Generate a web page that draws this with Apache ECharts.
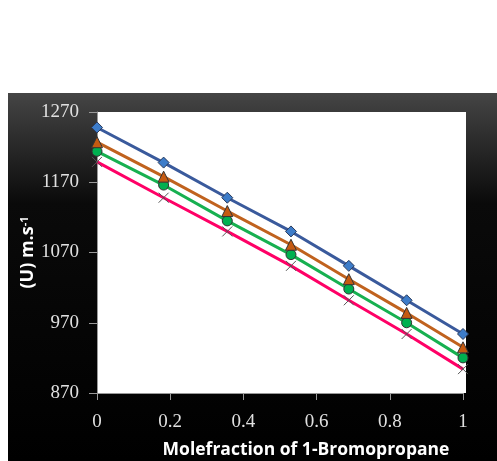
<!DOCTYPE html>
<html><head><meta charset="utf-8">
<script src="https://cdn.jsdelivr.net/npm/echarts@6/dist/echarts.min.js"></script>
<style>html,body{margin:0;padding:0;background:#fff}#c{width:497px;height:461px}</style>
</head><body><div id="c"></div>
<script>
const moleFraction = [0, 0.182, 0.356, 0.53, 0.688, 0.846, 1];
const seriesBlue   = [1248, 1198, 1148, 1100, 1051, 1002, 954];
const seriesOrange = [1227, 1178, 1129, 1081, 1032, 984, 935];
const seriesGreen  = [1214, 1166, 1115, 1067, 1018, 970, 920];
const seriesPink   = [1199, 1148, 1100, 1051, 1002, 954, 904];
const yTicks = [870, 970, 1070, 1170, 1270];
const xTitle = 'Molefraction of 1-Bromopropane';

const chart = echarts.init(document.getElementById('c'), null, {renderer:'canvas'});
const pair = arr => moleFraction.map((x,i)=>[x, arr[i]]);
const G = {left:97, top:112, width:366, height:281, outerBoundsMode:'none', containLabel:false};
function mk(name, data, lineColor, symbol, size, fill, border) {
  return {
    name, type:'line', data: pair(data), symbol, symbolSize:size,
    lineStyle:{color:lineColor, width:3},
    itemStyle:{color:fill, borderColor:border, borderWidth:1},
    emphasis:{disabled:true}, animation:false
  };
}
chart.setOption({
  animation:false,
  graphic:[
    {type:'rect', z:-10, shape:{x:8, y:93, width:489, height:368},
     style:{fill:new echarts.graphic.LinearGradient(0,0,0,1,[
       {offset:0,color:'#454545'},{offset:0.3,color:'#0a0a0a'},{offset:1,color:'#000'}])}},
    {type:'rect', z:-9, shape:{x:97, y:112, width:369, height:281}, style:{fill:'#fff'}}
  ],
  grid:G,
  xAxis:{type:'value', min:0, max:1, interval:0.2,
    name:xTitle, nameLocation:'middle', nameGap:48,
    nameTextStyle:{color:'#fff', fontFamily:'Open Sans', fontWeight:'bold', fontSize:17.5, padding:[0,0,0,52]},
    axisLine:{show:true, lineStyle:{color:'#999', width:1}},
    axisTick:{show:true, length:7, lineStyle:{color:'#999'}},
    axisLabel:{color:'#e0e0e0', fontFamily:'Liberation Serif', fontSize:19, margin:20,
      formatter:v=>String(+v.toFixed(1))},
    splitLine:{show:false}},
  yAxis:{type:'value', min:870, max:1270, interval:100,
    name:'{a|(U) m.s}{s|-1}', nameLocation:'middle', nameGap:60, nameRotate:90, nameMoveOverlap:false,
    nameTextStyle:{rich:{
      a:{color:'#fff', fontFamily:'Open Sans', fontWeight:'bold', fontSize:18},
      s:{color:'#fff', fontFamily:'Open Sans', fontWeight:'bold', fontSize:11, verticalAlign:'bottom', padding:[0,0,7,0]}}},
    axisLine:{show:true, lineStyle:{color:'#999', width:1}},
    axisTick:{show:true, length:8, lineStyle:{color:'#999'}},
    axisLabel:{color:'#e0e0e0', fontFamily:'Liberation Serif', fontSize:19, margin:18,
      formatter:v=>String(v)},
    splitLine:{show:false}},
  series:[
    mk('X', seriesPink, '#ff0066', 'path://M0,0L10,10M10,0L0,10', 10, 'rgba(0,0,0,0)', '#555'),
    mk('C', seriesGreen, '#17b050', 'circle', 10, '#00b050', '#333'),
    mk('T', seriesOrange, '#c0621e', 'triangle', 11, '#c55a11', '#333'),
    mk('D', seriesBlue, '#3a5a9c', 'diamond', 11, '#3d7cc9', '#2a3a5a')
  ]
});
</script></body></html>
